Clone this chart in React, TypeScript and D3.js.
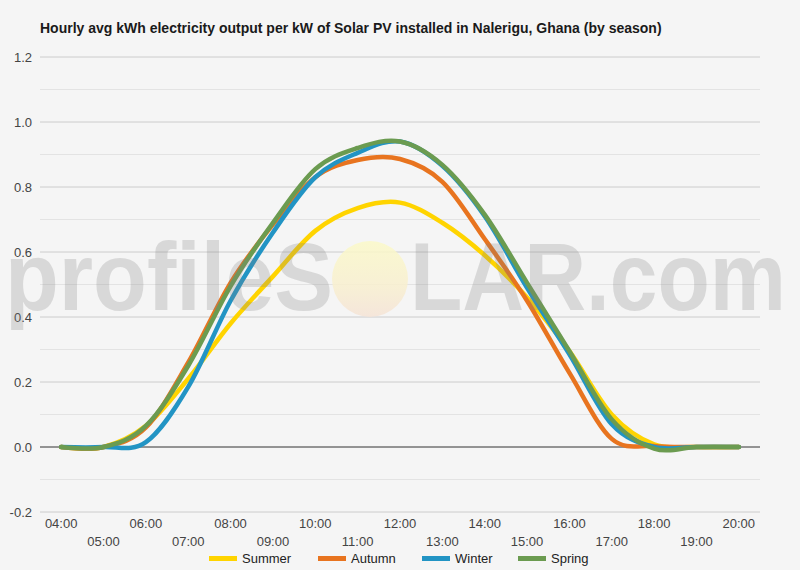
import React from "react";
import * as d3 from "d3";

const hours = [4, 5, 6, 7, 8, 9, 10, 11, 12, 13, 14, 15, 16, 17, 18, 19, 20];
const hourLabels = ["04:00", "05:00", "06:00", "07:00", "08:00", "09:00", "10:00", "11:00", "12:00", "13:00", "14:00", "15:00", "16:00", "17:00", "18:00", "19:00", "20:00"];
const summer = [0, 0, 0.065, 0.21, 0.38, 0.525, 0.665, 0.735, 0.752, 0.69, 0.59, 0.46, 0.295, 0.1, 0.008, 0, 0];
const autumn = [0, 0, 0.06, 0.26, 0.505, 0.685, 0.83, 0.883, 0.886, 0.816, 0.64, 0.45, 0.228, 0.025, 0.003, 0, 0];
const winter = [0, 0, 0.015, 0.185, 0.45, 0.66, 0.83, 0.905, 0.94, 0.865, 0.71, 0.49, 0.285, 0.07, 0, 0, 0];
const spring = [0, 0, 0.065, 0.25, 0.495, 0.69, 0.855, 0.92, 0.94, 0.868, 0.715, 0.505, 0.295, 0.085, -0.005, 0, 0];
const seriesNames = ["Summer", "Autumn", "Winter", "Spring"];
const seriesColors = ["#ffd400", "#e8741f", "#2294c4", "#6b9b50"];
const yTicks = [-0.2, 0, 0.2, 0.4, 0.6, 0.8, 1.0, 1.2];
const yMinor = [-0.1, 0.1, 0.3, 0.5, 0.7, 0.9, 1.1];
const title = "Hourly avg kWh electricity output per kW of Solar PV installed in Nalerigu, Ghana (by season)";

export default function App() {
  const W = 800, H = 570;
  const x = d3.scaleLinear().domain([3.5, 20.5]).range([40, 760]);
  const y = d3.scaleLinear().domain([-0.2, 1.2]).range([512, 57]);
  const series = [summer, autumn, winter, spring];
  const line = d3
    .line<number>()
    .x((_, i) => x(hours[i]))
    .y((v) => y(v))
    .curve(d3.curveCardinal.tension(0));
  const font = "Arial, 'Liberation Sans', sans-serif";
  const legendX = [209, 318, 422, 518];

  return (
    <div style={{ position: "absolute", left: 0, top: 0, width: W, height: H }}>
      <svg width={W} height={H} style={{ display: "block", fontFamily: font }}>
        <defs>
          <linearGradient id="sun" x1="0" y1="0" x2="0" y2="1">
            <stop offset="0" stopColor="#fbf9c8" />
            <stop offset="0.6" stopColor="#f8efcf" />
            <stop offset="1" stopColor="#f5e3d6" />
          </linearGradient>
        </defs>
        <rect x={0} y={0} width={W} height={H} fill="#f5f5f5" />
        <text x={40} y={33} fontSize={14} fontWeight="bold" fill="#1a1a1a">
          {title}
        </text>
        {yMinor.map((t) => (
          <line key={"m" + t} x1={40} x2={760} y1={y(t)} y2={y(t)} stroke="#e3e3e3" strokeWidth={1} />
        ))}
        {yTicks.map((t) => (
          <line key={"g" + t} x1={40} x2={760} y1={y(t)} y2={y(t)} stroke={t === 0 ? "#333" : "#cccccc"} strokeWidth={1} />
        ))}
        {yTicks.map((t) => (
          <text key={"yl" + t} x={32} y={y(t)} dy="0.35em" textAnchor="end" fontSize={13} fill="#444">
            {t.toFixed(1)}
          </text>
        ))}
        {hours.map((h, i) => (
          <text key={"xl" + h} x={x(h)} y={i % 2 === 0 ? 528 : 546} textAnchor="middle" fontSize={13} fill="#444">
            {hourLabels[i]}
          </text>
        ))}
        {series.map((s, k) => (
          <path key={"s" + k} d={line(s) || ""} fill="none" stroke={seriesColors[k]} strokeWidth={4.5} strokeLinejoin="round" strokeLinecap="round" />
        ))}
        <g>
          <text x={5} y={310} fontSize={96} fontWeight="bold" fill="#808080" opacity={0.24} textLength={328} lengthAdjust="spacingAndGlyphs">
            profileS
          </text>
          <circle cx={370} cy={279} r={38} fill="url(#sun)" opacity={0.85} />
          <text x={410} y={310} fontSize={96} fontWeight="bold" fill="#808080" opacity={0.24} textLength={376} lengthAdjust="spacingAndGlyphs">
            LAR.com
          </text>
        </g>
        {seriesNames.map((n, k) => (
          <g key={"lg" + n}>
            <rect x={legendX[k]} y={556} width={28} height={5} fill={seriesColors[k]} />
            <text x={legendX[k] + 33} y={563} fontSize={13} fill="#222">
              {n}
            </text>
          </g>
        ))}
      </svg>
    </div>
  );
}
